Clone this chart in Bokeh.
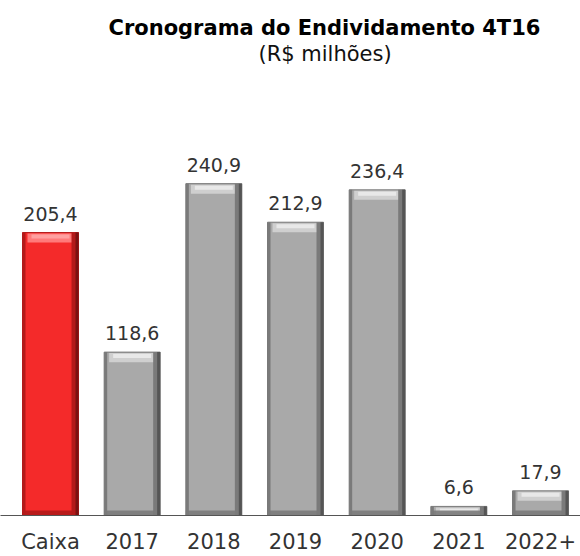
from bokeh.plotting import figure
from bokeh.models import Range1d, FixedTicker, LabelSet, ColumnDataSource, Title
from bokeh.core.properties import value
from bokeh.transform import dodge
from bokeh.embed import file_html
from bokeh.resources import INLINE

# ---- data ----
categories = ["Caixa", "2017", "2018", "2019", "2020", "2021", "2022+"]
values = [205.4, 118.6, 240.9, 212.9, 236.4, 6.6, 17.9]
value_labels = ["205,4", "118,6", "240,9", "212,9", "236,4", "6,6", "17,9"]
title_text = "Cronograma do Endividamento 4T16"
subtitle_text = "(R$ milhões)"

# ---- styles ----
RED = dict(body="#f42a2a", dark="#7a1212", shade="#b31a1a", light="#ff7a7a", bright="#ffa0a0")
GREY = dict(body="#a9a9a9", dark="#555555", shade="#7a7a7a", light="#cfcfcf", bright="#e8e8e8")
styles = [RED if c == "Caixa" else GREY for c in categories]

PX_Y = 1 / 1.376      # data units per vertical pixel
PX_X = 1 / 81.67      # data units per horizontal pixel
BW = 56 * PX_X

xs = list(range(len(categories)))
src = ColumnDataSource(dict(
    x=xs,
    top=values,
    label=value_labels,
    body=[s["body"] for s in styles],
    dark=[s["dark"] for s in styles],
    shade=[s["shade"] for s in styles],
    light=[s["light"] for s in styles],
    bright=[s["bright"] for s in styles],
    hl_top=[max(v - 1 * PX_Y, 0) for v in values],
    hl_bot=[max(v - 10 * PX_Y, 0) for v in values],
    br_top=[max(v - 2 * PX_Y, 0) for v in values],
    br_bot=[max(v - 6 * PX_Y, 0) for v in values],
    bot_top=[min(v, 5 * PX_Y) for v in values],
))

FONT = "DejaVu Sans"

p = figure(width=580, height=556, output_backend="svg", toolbar_location=None,
           x_range=Range1d(-50 * PX_X, 530 * PX_X), y_range=Range1d(0, 325.2),
           y_axis_location=None, min_border_left=0, min_border_right=0,
           min_border_top=67, min_border_bottom=0)
p.outline_line_color = None
p.grid.visible = False
p.background_fill_color = "white"
p.border_fill_color = "white"

# bars with a bevelled look
p.vbar(x="x", top="top", bottom=0, width=BW, source=src,
       fill_color="body", line_color="shade", line_width=1)
# top bevel highlight
p.vbar(x="x", top="hl_top", bottom="hl_bot", width=BW - 10 * PX_X, source=src,
       fill_color="light", line_color=None)
p.vbar(x="x", top="br_top", bottom="br_bot", width=BW - 18 * PX_X, source=src,
       fill_color="bright", line_color=None)
# bottom shadow
p.vbar(x="x", top="bot_top", bottom=0, width=BW, source=src,
       fill_color="shade", fill_alpha=0.9, line_color=None)
# right edge shading
p.vbar(x=dodge("x", BW / 2 - 3.5 * PX_X, range=p.x_range), top="top", bottom=0,
       width=7 * PX_X, source=src, fill_color="shade", line_color=None)
p.vbar(x=dodge("x", BW / 2 - 1.5 * PX_X, range=p.x_range), top="top", bottom=0,
       width=3 * PX_X, source=src, fill_color="dark", line_color=None)
# left edge shading
p.vbar(x=dodge("x", -BW / 2 + 1.5 * PX_X, range=p.x_range), top="top", bottom=0,
       width=3 * PX_X, source=src, fill_color="shade", line_color=None)

labels = LabelSet(x="x", y="top", text="label", source=src, y_offset=12,
                  text_align="center", text_baseline="alphabetic",
                  text_font=value(FONT), text_font_size=value("19px"),
                  text_color=value("#333333"))
p.add_layout(labels)

# x axis with category labels
p.xaxis.ticker = FixedTicker(ticks=xs)
p.xaxis.major_label_overrides = {i: c for i, c in zip(xs, categories)}
p.xaxis.major_tick_out = 0
p.xaxis.major_tick_in = 0
p.xaxis.minor_tick_out = 0
p.xaxis.minor_tick_in = 0
p.xaxis.axis_line_color = "#555555"
p.xaxis.major_label_standoff = 14
p.xaxis.major_label_text_font = FONT
p.xaxis.major_label_text_font_size = "21px"
p.xaxis.major_label_text_color = "#333333"

# titles (subtitle first: it sits nearer the plot)
p.add_layout(Title(text=subtitle_text, align="left", offset=258, standoff=4,
                   text_font=FONT, text_font_size="21px", text_font_style="normal",
                   text_color="#111111"), "above")
p.add_layout(Title(text=title_text, align="left", offset=108, standoff=-5,
                   text_font=FONT, text_font_size="21px", text_font_style="bold",
                   text_color="#000000"), "above")

open("out.html", "w").write(file_html(p, INLINE))
